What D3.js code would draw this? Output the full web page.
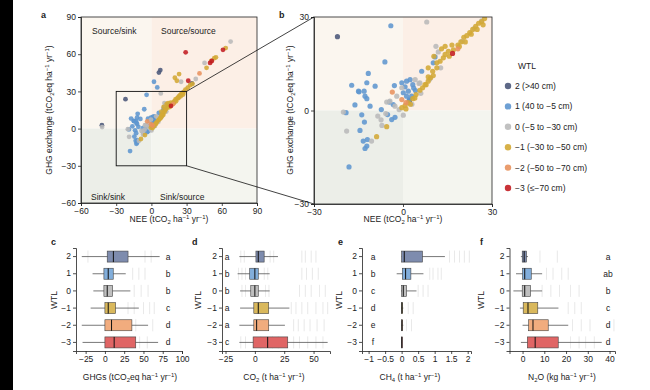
<!DOCTYPE html>
<html><head><meta charset="utf-8">
<script src="https://cdn.jsdelivr.net/npm/d3@7"></script>
<style>body{margin:0;background:#fff;} text{font-family:"Liberation Sans",Arial,sans-serif;fill:#222;}</style>
</head><body><svg id="c" width="650" height="390"></svg>
<script>
// ---------- DATA ----------
const wtlLevels = ["2","1","0","-1","-2","-3"];
const wtlTicks = ["2","1","0","−1","−2","−3"];
const wtlLabels = ["2 (>40 cm)","1 (40 to −5 cm)","0 (−5 to −30 cm)","−1 (−30 to −50 cm)","−2 (−50 to −70 cm)","−3 (≤−70 cm)"];
const dotColors = ["#4b587a","#5e96cf","#bababa","#d3a935","#e8925e","#c31d22"];
const boxColors = ["#7e8cae","#82aedb","#bfbfbf","#d9b85c","#f1ac7e","#e06565"];
const quadLabels = ["Source/sink","Source/source","Sink/sink","Sink/source"];
const axisTicksA = [-60,-30,0,30,60,90];
const axisTicksB = [-30,0,30];

// scatter [NEE, GHG] per WTL class
const pts_2 = [[-22.1,23.7],[7.6,47.2],[6.4,45.2],[34.5,36.5],[-42.2,2.7],[2.2,3.2]];
const pts_1 = [[-4.1,27.2],[-6.1,15.6],[-11.7,11.9],[-12.2,8.9],[-17.3,8.1],[-9.4,7.8],[-15,6.2],[-13.1,6.2],
  [-12.8,4.6],[-12.2,3.8],[-16.2,1.8],[-11.1,1.4],[-19.2,-0.7],[-13.9,-1.4],[-5.2,-1.3],[-4.6,2.7],[-2.9,8.0],
  [-13,-3.7],[-3.8,-2.9],[-2.7,-2.2],[-14.5,-6.4],[-13.4,-9.8],[-12,-9.3],[-12.2,-11.4],[-12.8,-12.2],[-18.2,-18.1],
  [-7.3,0.3],[-3.3,1.9],[1.2,9.4],[2.4,9.9],[3.3,8.3],[0.7,7.6],[1.8,6.2],[2.9,4.6],[1.2,4.6],[2.1,3.5],[0.1,5.7],
  [-0.4,8.9],[3.6,7.2],[4.2,6.4],[10.2,15.3],[6.3,12.6],[10.8,17.2],[2.2,37.8],[5.0,33.2],[-14.8,6.0]];
const pts_0 = [[8,28.4],[-20.1,-0.5],[-7.4,-3.0],[-5.5,2.7],[-7.1,-4.8],[-19,-6.6],[-10.6,-9.8],[4.1,9.9],[5.4,8.7],
  [-0.4,7.3],[-2.1,4.6],[-1.3,0.3],[0.1,-1.5],[-2.7,1.4],[-4.4,3.0],[11.1,20.6],[11.9,18.8],[12.7,13.7],[5.7,8.9],
  [3.0,2.0],[6.0,5.5],[9.0,10.0],[20,22.2],[24,26.3],[26.5,28.8],[67.5,70.2],[45.3,53],[37.8,40],[25.3,37.8],
  [-42,1.2],[-8.5,-1.8],[-5.8,-1.0]];
const pts_m1 = [[-5.5,-5.2],[-8.9,-8.4],[-0.4,0.9],[0.7,1.6],[1.8,2.5],[3.3,3.8],[4.4,5.1],[5.7,6.5],[6.6,7.3],[7.8,8.3],
  [8.5,9.4],[9.3,10.5],[10.2,11.2],[8.5,10.8],[10,12.6],[11.4,13.7],[12.5,15.8],[11.4,15.3],[13.6,16.9],[14.2,18],
  [13,19.8],[14.2,20.6],[15.3,19],[15.6,17.4],[10.4,17.4],[8.5,13.7],[7.4,8.3],[1,0.5],[2.5,2],[4,4],[17,19.5],
  [18.5,21],[19.5,22],[20.5,23.5],[21.5,24],[22.5,25],[23.5,26],[24.5,27],[25.5,28],[26.5,28.5],[27.5,29.5],
  [16.5,21],[19,20.5],[21,22],[23,24.5],[25,26],[27,27.5],[29,31.5],[31,33],[33,35],[35,36],[23.6,44],[21.7,38.6],
  [20,41],[47,49],[51,54.5],[53.6,56.8],[55,57.5],[63.3,64.9]];
const pts_m2 = [[-3.6,5.9],[-0.4,3.5],[1.0,2.5],[41,44.5],[18.5,19.8]];
const pts_m3 = [[29.2,61.5],[61,63.5],[50,53],[51.5,54.5],[31.4,38.6],[16.7,18.3]];
const scatterSets = [pts_2, pts_1, pts_0, pts_m1, pts_m2, pts_m3];

// box stats [min, q1, median, q3, max] per WTL (2 .. -3)
const ghgStats = [[-30,3,11,30,71],[-16,-1.3,4.3,10.8,27],[-15,-1.3,3,10,33],[-18.5,0,4.3,13.8,44],[-30,0,8.6,35,56],[-29,0,12,40,69]];
const co2Stats = [[-13.2,0.9,2.9,7.9,19.7],[-14.7,-4.4,0,2.9,12.6],[-12.6,-3.5,0,2.9,12.6],[-12.6,-0.9,2.9,11.8,29.4],[-13.2,-0.9,1.5,11.8,25.6],[-13.2,-1.5,10.9,28,62]];
const ch4Stats = [[0,0,0.08,0.63,1.31],[-0.15,0.02,0.12,0.28,0.66],[-0.02,0,0.05,0.15,0.45],[-0.01,0,0.01,0.03,0.05],[-0.01,0,0.01,0.03,0.05],[0,0,0.005,0.01,0.01]];
const n2oStats = [[-0.75,-0.15,0.75,1.8,2.5],[-3,0,1,4,9],[-4.2,-0.15,1,3.7,9],[-1.2,0.3,2.5,7,16.5],[0,2.8,4.8,11.8,21],[-0.75,2.2,5.8,16.4,36.4]];
// faint individual observations shown behind the boxes
const ghgRug = [[-22,52,60],[36,44,52],[38,47,56],[30,38,50,58,64],[40,62],[45,55]];
const co2Rug = [[-12,-9,13,16,40,43,48,52],[-14,-11,-8,8,11,40,44,49,54],[-11,-8,9,12,38,43,48,55,60],[31,35,40,45,52,58,62],[33,37,42,47,53,59],[-12,-8,5,15,20,33,38,45,52,58]];
const ch4Rug = [[1.45,1.6,1.75,1.9,2.05],[0.85,0.95,1.1,1.2],[0.5,0.65,0.8],[0.2,0.35],[0.15,0.3],[]];
const n2oRug = [[8,16],[11,14,18,21],[9,13,17,22,26],[21,24,27],[23,27,31,42],[22,26,29,33]];
const ghgLetters = ["a","b","b","c","d","d"];
const co2Letters = ["a","b","b","a","a","c"];
const ch4Letters = ["a","b","c","d","e","f"];
const n2oLetters = ["a","ab","b","c","d","d"];
const ghgTicks = [-25,0,25,50,75,100];
const co2Ticks = [-25,0,25,50];
const ch4Ticks = [-1,-0.5,0,0.5,1,1.5,2];
const n2oTicks = [0,10,20,30,40];

// ---------- DRAW ----------
const svg = d3.select("#c");
svg.append("rect").attr("x",0).attr("y",0).attr("width",13).attr("height",390).attr("fill","#000");

const FS = 8.5;
function rich(g, x, y, parts, opts={}) {
  const t = g.append("text").attr("x",x).attr("y",y).attr("font-size",opts.fs||FS)
    .attr("text-anchor",opts.anchor||"middle");
  if (opts.rotate) t.attr("transform",`rotate(-90,${x},${y})`);
  parts.forEach(p => {
    const [s, k] = Array.isArray(p) ? p : [p, null];
    const ts = t.append("tspan").text(s);
    if (k==="sub") ts.attr("font-size",(opts.fs||FS)*0.7).attr("baseline-shift","-25%");
    if (k==="sup") ts.attr("font-size",(opts.fs||FS)*0.7).attr("baseline-shift","45%");
  });
  return t;
}
const neeLabel = ["NEE (tCO",["2","sub"]," ha",["−1","sup"]," yr",["−1","sup"],")"];
const ghgLabel = ["GHG exchange (tCO",["2","sub"],"eq ha",["−1","sup"]," yr",["−1","sup"],")"];

function styleAxis(g){
  g.selectAll("path,line").attr("stroke","#222").attr("stroke-width",0.8);
  g.selectAll("text").attr("font-size",FS).attr("fill","#222").attr("font-family","Liberation Sans, Arial, sans-serif");
}
const fmt = d => d3.format("")(d).replace("-","−");

function quadrants(g, x, y, x0, x1, y0, y1){
  const q = [[x0,0,0,y1,"#fbf6ef"],[0,x1,0,y1,"#fcefe6"],[x0,0,y0,0,"#eceee8"],[0,x1,y0,0,"#f4f5ef"]];
  q.forEach(([a,b,c,d,col]) => g.append("rect").attr("x",x(a)).attr("y",y(d))
    .attr("width",x(b)-x(a)).attr("height",y(c)-y(d)).attr("fill",col));
}

// Panel a
const xA = d3.scaleLinear().domain([-60,90]).range([81,257]);
const yA = d3.scaleLinear().domain([-60,90]).range([203,17]);
const gA = svg.append("g");
quadrants(gA, xA, yA, -60, 90, -60, 90);
gA.append("text").attr("x",92).attr("y",34).attr("font-size",FS).text(quadLabels[0]);
gA.append("text").attr("x",161).attr("y",34).attr("font-size",FS).text(quadLabels[1]);
gA.append("text").attr("x",91).attr("y",200).attr("font-size",FS).text(quadLabels[2]);
gA.append("text").attr("x",160).attr("y",200).attr("font-size",FS).text(quadLabels[3]);
scatterSets.forEach((pts,i) => {
  gA.selectAll(null).data(pts).join("circle").attr("cx",d=>xA(d[0])).attr("cy",d=>yA(d[1]))
    .attr("r",2.4).attr("fill",dotColors[i]).attr("opacity",0.88);
});
gA.append("rect").attr("x",xA(-30)).attr("y",yA(30)).attr("width",xA(30)-xA(-30)).attr("height",yA(-30)-yA(30))
  .attr("fill","none").attr("stroke","#111").attr("stroke-width",0.9);
gA.append("rect").attr("x",xA(-60)).attr("y",yA(90)).attr("width",xA(90)-xA(-60)).attr("height",yA(-60)-yA(90))
  .attr("fill","none").attr("stroke","#222").attr("stroke-width",0.8);
styleAxis(gA.append("g").attr("transform",`translate(0,${yA(-60)})`).call(d3.axisBottom(xA).tickValues(axisTicksA).tickSize(3).tickPadding(1.5).tickFormat(fmt)));
styleAxis(gA.append("g").attr("transform",`translate(${xA(-60)},0)`).call(d3.axisLeft(yA).tickValues(axisTicksA).tickSize(3).tickPadding(2).tickFormat(fmt)));
rich(gA, 169, 222, neeLabel);
rich(gA, 52, 110, ghgLabel, {rotate:true});
gA.append("text").attr("x",41).attr("y",18).attr("font-size",9).attr("font-weight","bold").text("a");

// Panel b
const xB = d3.scaleLinear().domain([-30,30]).range([314,492]);
const yB = d3.scaleLinear().domain([-30,30]).range([204,17]);
const gB = svg.append("g");
svg.append("defs").append("clipPath").attr("id","clipB").append("rect")
  .attr("x",xB(-30)).attr("y",yB(30)).attr("width",xB(30)-xB(-30)).attr("height",yB(-30)-yB(30));
quadrants(gB, xB, yB, -30, 30, -30, 30);
const gBp = gB.append("g").attr("clip-path","url(#clipB)");
scatterSets.forEach((pts,i) => {
  gBp.selectAll(null).data(pts).join("circle").attr("cx",d=>xB(d[0])).attr("cy",d=>yB(d[1]))
    .attr("r",2.6).attr("fill",dotColors[i]).attr("opacity",0.88);
});
gB.append("rect").attr("x",xB(-30)).attr("y",yB(30)).attr("width",xB(30)-xB(-30)).attr("height",yB(-30)-yB(30))
  .attr("fill","none").attr("stroke","#222").attr("stroke-width",0.8);
styleAxis(gB.append("g").attr("transform",`translate(0,${yB(-30)})`).call(d3.axisBottom(xB).tickValues(axisTicksB).tickSize(3).tickPadding(1.5).tickFormat(fmt)));
styleAxis(gB.append("g").attr("transform",`translate(${xB(-30)},0)`).call(d3.axisLeft(yB).tickValues(axisTicksB).tickSize(3).tickPadding(2).tickFormat(fmt)));
rich(gB, 403, 222, neeLabel);
rich(gB, 293, 110, ghgLabel, {rotate:true});
gB.append("text").attr("x",279).attr("y",18).attr("font-size",9).attr("font-weight","bold").text("b");

// connectors
svg.append("line").attr("x1",xA(30)).attr("y1",yA(30)).attr("x2",xB(-30)).attr("y2",yB(30)).attr("stroke","#111").attr("stroke-width",0.8);
svg.append("line").attr("x1",xA(30)).attr("y1",yA(-30)).attr("x2",xB(-30)).attr("y2",yB(-30)).attr("stroke","#111").attr("stroke-width",0.8);

// Legend
const gL = svg.append("g");
gL.append("text").attr("x",518).attr("y",69).attr("font-size",FS).text("WTL");
wtlLabels.forEach((lab,i) => {
  const cy = 86 + i*20.4;
  gL.append("circle").attr("cx",508).attr("cy",cy).attr("r",3.2).attr("fill",dotColors[i]).attr("opacity",0.9);
  gL.append("text").attr("x",515).attr("y",cy+3).attr("font-size",FS).text(lab);
});

// Box panels
function boxPanel(cfg){
  const g = svg.append("g");
  const x = d3.scaleLinear().domain(cfg.domain).range(cfg.range);
  const y = d3.scaleBand().domain(wtlLevels).range([248,351]);
  const bh = 11;
  cfg.rug.forEach((vals,i) => {
    const cy = y(wtlLevels[i]) + y.bandwidth()/2;
    g.selectAll(null).data(vals).join("line").attr("x1",d=>x(d)).attr("x2",d=>x(d))
      .attr("y1",cy-6).attr("y2",cy+6).attr("stroke","#d8d8d8").attr("stroke-width",0.8).attr("opacity",0.7);
  });
  cfg.stats.forEach((s,i) => {
    const cy = y(wtlLevels[i]) + y.bandwidth()/2;
    g.append("line").attr("x1",x(s[0])).attr("x2",x(s[4])).attr("y1",cy).attr("y2",cy).attr("stroke","#555").attr("stroke-width",0.8);
    g.append("rect").attr("x",x(s[1])).attr("y",cy-bh/2).attr("width",Math.max(0.8,x(s[3])-x(s[1]))).attr("height",bh)
      .attr("fill",boxColors[i]).attr("stroke","#444").attr("stroke-width",0.6);
    g.append("line").attr("x1",x(s[2])).attr("x2",x(s[2])).attr("y1",cy-bh/2).attr("y2",cy+bh/2).attr("stroke","#111").attr("stroke-width",1);
    g.append("text").attr("x",cfg.letterX).attr("y",cy+3).attr("font-size",FS).attr("text-anchor","middle").text(cfg.letters[i]);
  });
  styleAxis(g.append("g").attr("transform","translate(0,351)").call(d3.axisBottom(x).tickValues(cfg.ticks).tickSize(3).tickPadding(1.5).tickFormat(fmt)));
  const ya = g.append("g").attr("transform",`translate(${cfg.range[0]},0)`).call(d3.axisLeft(y).tickSize(3).tickPadding(2).tickFormat((d,i)=>wtlTicks[i]));
  styleAxis(ya);
  rich(g, cfg.labelX, 380, cfg.label);
  rich(g, cfg.wtlX, 300, ["WTL"], {rotate:true});
  g.append("text").attr("x",cfg.panelX).attr("y",245).attr("font-size",9).attr("font-weight","bold").text(cfg.panel);
}
boxPanel({domain:[-37.5,100],range:[76,182],stats:ghgStats,rug:ghgRug,letters:ghgLetters,letterX:168,ticks:ghgTicks,
  label:["GHGs (tCO",["2","sub"],"eq ha",["−1","sup"]," yr",["−1","sup"],")"],labelX:130,wtlX:57,panel:"c",panelX:51});
boxPanel({domain:[-28,64],range:[222,330],stats:co2Stats,rug:co2Rug,letters:co2Letters,letterX:227,ticks:co2Ticks,
  label:["CO",["2","sub"]," (t ha",["−1","sup"]," yr",["−1","sup"],")"],labelX:274,wtlX:201,panel:"d",panelX:192});
boxPanel({domain:[-1.2,2.1],range:[362,471],stats:ch4Stats,rug:ch4Rug,letters:ch4Letters,letterX:373,ticks:ch4Ticks,
  label:["CH",["4","sub"]," (t ha",["−1","sup"]," yr",["−1","sup"],")"],labelX:410,wtlX:342,panel:"e",panelX:338});
boxPanel({domain:[-6,42.5],range:[509.5,615],stats:n2oStats,rug:n2oRug,letters:n2oLetters,letterX:608,ticks:n2oTicks,
  label:["N",["2","sub"],"O (kg ha",["−1","sup"]," yr",["−1","sup"],")"],labelX:562,wtlX:484,panel:"f",panelX:480});
</script></body></html>
